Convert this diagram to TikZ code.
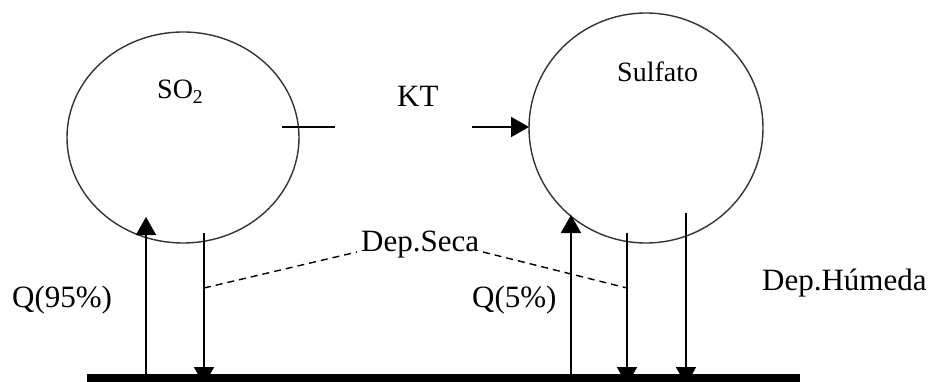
\documentclass[tikz,border=0pt]{standalone}
\usepackage{fontspec}
\setmainfont{Liberation Serif}
\usetikzlibrary{arrows.meta,shapes.geometric}
\begin{document}
\begin{tikzpicture}[x=1pt,y=-1pt,
  circ/.style={draw=black!80, line width=1.4pt, inner sep=0pt, ellipse},
  flow/.style={line width=1.8pt, -{Triangle[length=18pt,width=20pt]}},
  plain/.style={line width=1.8pt},
  lbl/.style={anchor=base west, inner sep=0pt, font=\fontsize{31}{36}\selectfont},
  sml/.style={lbl, font=\fontsize{28}{34}\selectfont},
  dep/.style={line width=1.4pt, dash pattern=on 7pt off 5pt}]
\useasboundingbox (0,0) rectangle (931,382);
% compartments
\node[circ, minimum width=232pt, minimum height=211pt] (so2) at (183,137.5) {};
\node[circ, minimum width=234pt, minimum height=230pt] (sulf) at (646,128) {};
% labels
\node[sml] (so2t) at (157,99) {SO\textsubscript{2}};
\node[sml] (sulft) at (617,82) {Sulfato};
\node[lbl] (kt) at (397,107) {KT};
\node[lbl] (q95) at (12,307) {Q(95\%)};
\node[lbl] (q5) at (472,307) {Q(5\%)};
\node[lbl] (seca) at (361,251) {Dep.Seca};
\node[lbl] (humeda) at (762,290) {Dep.Húmeda};
% coordinates
\coordinate (gL) at (87,378);
\coordinate (gR) at (800,378);
\coordinate (ktA) at (282,127);
\coordinate (ktB) at (335,127);
\coordinate (ktC) at (472,127);
\coordinate (ktD) at (529,127);
\coordinate (u1b) at (146,378);
\coordinate (u1t) at (146,217);
\coordinate (d1t) at (204,233);
\coordinate (d1b) at (204,385);
\coordinate (u2b) at (571,378);
\coordinate (u2t) at (571,215);
\coordinate (d2t) at (627,233);
\coordinate (d2b) at (627,385);
\coordinate (d3t) at (686,213);
\coordinate (d3b) at (686,385);
\coordinate (s1a) at (204,288);
\coordinate (s1b) at (357,252);
\coordinate (s2a) at (483,252);
\coordinate (s2b) at (627,288);
% transfer
\draw[plain] (ktA) -- (ktB);
\draw[flow] (ktC) -- (ktD);
% fluxes
\draw[flow] (u1b) -- (u1t);
\draw[flow] (d1t) -- (d1b);
\draw[flow] (u2b) -- (u2t);
\draw[flow] (d2t) -- (d2b);
\draw[flow] (d3t) -- (d3b);
% dry deposition leaders
\draw[dep] (s1a) -- (s1b);
\draw[dep] (s2a) -- (s2b);
% ground
\draw[line width=9pt] (gL) -- (gR);
\end{tikzpicture}
\end{document}
